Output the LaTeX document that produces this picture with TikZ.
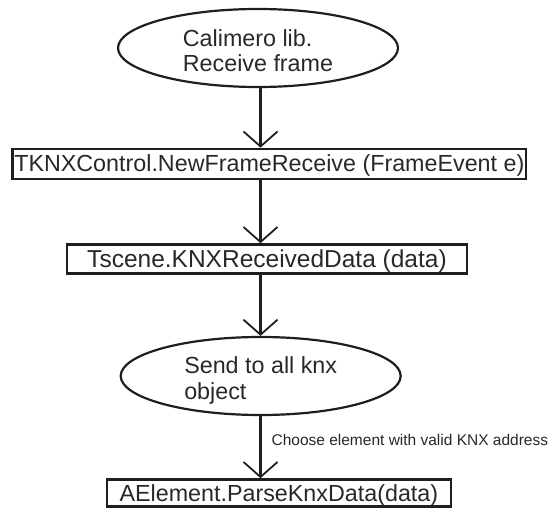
\documentclass[tikz,border=0pt]{standalone}
\usepackage{fontspec}
\setmainfont{Liberation Sans}
\usetikzlibrary{shapes.geometric,arrows.meta}
\definecolor{ink}{RGB}{30,30,30}
\definecolor{txt}{RGB}{40,40,40}
\tikzset{
  procbox/.style={draw=ink, line width=2.6pt, rectangle, inner sep=0pt, text=txt,
    font=\fontsize{23.3}{25}\selectfont},
  event/.style={draw=ink, line width=2.2pt, ellipse, inner sep=0pt,
    minimum width=280pt, minimum height=78pt, text=txt},
  flow/.style={draw=ink, line width=2.2pt,
    -{Straight Barb[length=15pt,width=34pt,line width=1.8pt]}},
  lbl/.style={text=txt, font=\fontsize{15.5}{17}\selectfont, inner sep=0pt}
}
\begin{document}
\begin{tikzpicture}[x=1pt,y=-1pt]
  \useasboundingbox (0,0) rectangle (549,508);
  % vertical axis carrying all connectors
  \coordinate (spine) at (260.5,0);

  \node[event, text height=10pt, text depth=12pt] (recv) at (258,48)
    {\fontsize{23.3}{25}\selectfont\begin{tabular}[t]{@{}l@{}}Calimero lib.\\Receive frame\end{tabular}};

  \node[procbox, minimum width=513.3pt, minimum height=30pt,
        text height=17pt, text depth=1.6pt] (ctrl) at (269.35,164)
    {TKNXControl.NewFrameReceive (FrameEvent e)};

  \node[procbox, minimum width=400pt, minimum height=29pt,
        font=\fontsize{24.5}{26}\selectfont,
        text height=17pt, text depth=1pt] (scene) at (267,259)
    {Tscene.KNXReceivedData (data)};

  \node[event, text height=10pt, text depth=16pt] (send) at (260.7,376)
    {\fontsize{23.3}{26}\selectfont\begin{tabular}[t]{@{}l@{}}Send to all knx\\object\end{tabular}};

  \node[procbox, minimum width=344pt, minimum height=27pt,
        text height=18pt, text depth=0.6pt] (parse) at (278.9,493)
    {AElement.ParseKnxData(data)};

  \draw[flow] (recv.south -| spine) -- (ctrl.north -| spine);
  \draw[flow] (ctrl.south -| spine) -- (scene.north -| spine);
  \draw[flow] (scene.south -| spine) -- (send.north -| spine);
  \draw[flow] (send.south -| spine) -- (parse.north -| spine)
    node[lbl, pos=0.47, anchor=base west, xshift=10pt] (cond)
      {Choose element with valid KNX address};
\end{tikzpicture}
\end{document}
